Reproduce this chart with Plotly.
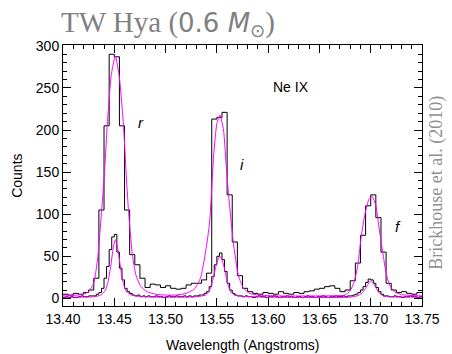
import numpy as np
import plotly.graph_objects as go

# ---------------- data ----------------
meg_start, meg_width = 13.400, 0.005
meg_counts = [5, 4, 6, 5, 7, 10, 24, 105, 205, 290,
              287, 205, 105, 52, 40, 24, 13, 17, 16, 13,
              15, 12, 11, 12, 16, 18, 18, 22, 30, 213,
              215, 221, 123, 67, 27, 12, 8, 6, 5, 7,
              6, 5, 8, 6, 5, 7, 6, 8, 9, 11,
              12, 14, 15, 12, 8, 10, 21, 42, 75, 110,
              123, 96, 55, 18, 10, 7, 8, 6, 5, 7]

heg_start, heg_width = 13.400, 0.0025
heg_counts = ([1, 2, 1, 2, 1, 1, 2, 3, 2, 2, 3, 3] +
              [3, 5, 7, 12, 24, 38, 58, 73, 76, 55, 36, 22, 12, 8, 6, 4, 3, 4] +
              [2, 3, 2, 3, 2, 2, 3, 2, 2, 1, 2, 3, 2, 2, 3, 2, 2, 3] +
              [2, 3, 2, 3, 3, 4, 4, 6, 8, 14, 26, 40, 50, 54, 46, 32, 18, 10, 6, 4, 3, 3] +
              [2, 3, 2, 2, 1, 2, 3, 2, 2, 1, 2, 2, 3, 2, 1, 2, 2, 3, 2, 2,
               1, 2, 2, 1, 2, 3, 2, 2, 1, 2, 2, 3, 2, 1, 2, 2, 3, 2, 2, 3] +
              [2, 3, 3, 4, 5, 7, 10, 14, 19, 23, 22, 18, 13, 8, 5, 3] +
              [3, 2, 2, 3, 2, 2, 1, 2, 2, 3, 2, 2, 1, 2])

meg_model_wl = [13.400, 13.410, 13.420, 13.425, 13.430, 13.434, 13.4377, 13.4405, 13.4431, 13.447,
                13.451, 13.455, 13.459, 13.4615, 13.4638, 13.4676, 13.471, 13.476, 13.482, 13.490,
                13.500, 13.510, 13.520, 13.528, 13.534, 13.539, 13.543, 13.5468, 13.550, 13.553,
                13.5565, 13.559, 13.5614, 13.566, 13.571, 13.576, 13.582, 13.590, 13.610, 13.650,
                13.675, 13.680, 13.684, 13.6875, 13.6904, 13.694, 13.698, 13.7015, 13.705, 13.708,
                13.7117, 13.715, 13.7184, 13.723, 13.730, 13.740, 13.750]
meg_model = [3, 3.5, 5, 8, 18, 50, 105, 150, 205, 265,
             288, 262, 205, 150, 105, 52, 28, 14, 8, 5,
             4, 4, 6, 11, 24, 55, 91, 169, 208, 218,
             200, 160, 123, 67, 27, 12, 6, 4, 3, 3,
             4, 9, 20, 40, 70, 98, 117, 121, 110, 85,
             55, 30, 16, 8, 4.5, 3.5, 3]

heg_model_wl = [13.400, 13.430, 13.437, 13.441, 13.444, 13.4465, 13.449, 13.451, 13.453, 13.4557,
                13.458, 13.461, 13.465, 13.470, 13.480, 13.500, 13.530, 13.539, 13.543, 13.546,
                13.549, 13.551, 13.553, 13.555, 13.5575, 13.560, 13.563, 13.567, 13.575, 13.600,
                13.680, 13.688, 13.692, 13.695, 13.698, 13.700, 13.702, 13.705, 13.708, 13.712,
                13.718, 13.750]
heg_model = [1.5, 2, 4, 9, 20, 38, 60, 70, 62, 40,
             22, 10, 5, 3, 2, 1.5, 2, 4, 10, 22,
             38, 46, 50, 46, 35, 20, 9, 4, 2.5, 1.5,
             1.5, 3.5, 7, 12, 18, 21, 19, 13, 7, 3,
             2, 1.5]

x_ticks = [13.40, 13.45, 13.50, 13.55, 13.60, 13.65, 13.70, 13.75]
y_ticks = [0, 50, 100, 150, 200, 250, 300]

line_labels = ["r", "i", "f"]
line_label_wl = [13.4765, 13.5745, 13.7265]
line_label_y = [209, 159, 85]


def step_xy(start, width, counts):
    n = len(counts)
    edges = np.round(start + width * np.arange(n + 1), 5)
    ys = list(counts) + [counts[-1]]
    return edges, ys


fig = go.Figure()
ex, ey = step_xy(meg_start, meg_width, meg_counts)
fig.add_trace(go.Scatter(x=ex, y=ey, mode="lines", line=dict(color="black", width=1, shape="hv"),
                         showlegend=False, hoverinfo="skip"))
ex, ey = step_xy(heg_start, heg_width, heg_counts)
fig.add_trace(go.Scatter(x=ex, y=ey, mode="lines", line=dict(color="black", width=1, shape="hv"),
                         showlegend=False, hoverinfo="skip"))
fig.add_trace(go.Scatter(x=meg_model_wl, y=meg_model, mode="lines",
                         line=dict(color="#ff00ff", width=1, shape="spline", smoothing=0.5),
                         showlegend=False, hoverinfo="skip"))
fig.add_trace(go.Scatter(x=heg_model_wl, y=heg_model, mode="lines",
                         line=dict(color="#ff00ff", width=1, shape="spline", smoothing=0.5),
                         showlegend=False, hoverinfo="skip"))

sans = "Liberation Sans, Arial, Helvetica, sans-serif"
serif = "Liberation Serif, Times New Roman, serif"

axis_common = dict(showline=True, linecolor="black", linewidth=1, mirror="allticks",
                   ticks="inside", ticklen=8, tickcolor="black", tickwidth=1,
                   showgrid=False, zeroline=False,
                   tickfont=dict(family=sans, size=14, color="black"))

fig.update_xaxes(range=[13.40, 13.75], tickvals=x_ticks, ticktext=[f"{v:.2f}" for v in x_ticks],
                 minor=dict(dtick=0.01, tick0=13.40, ticks="inside", ticklen=4, tickcolor="black"),
                 **axis_common)
fig.update_yaxes(range=[-9, 301], tickvals=y_ticks, ticktext=[str(v) for v in y_ticks],
                 minor=dict(dtick=10, tick0=0, ticks="inside", ticklen=4, tickcolor="black"),
                 **axis_common)

annotations = [
    dict(text="TW Hya (<span style='font-family:DejaVu Sans;font-size:26px'>0.6 <i>M</i><sub>⊙</sub></span>)",
         xref="paper", yref="paper", x=-0.010, y=1.084, xanchor="left", yanchor="middle",
         showarrow=False, font=dict(family=serif, size=29, color="#808080")),
    dict(text="Brickhouse et al. (2010)", xref="paper", yref="paper", x=1.038, y=0.471,
         textangle=-90, xanchor="center", yanchor="middle", showarrow=False,
         font=dict(family=serif, size=18, color="#909090")),
    dict(text="Ne IX", xref="x", yref="y", x=13.6226, y=251, showarrow=False,
         font=dict(family=sans, size=14, color="black")),
    dict(text="Wavelength (Angstroms)", xref="paper", yref="paper", x=0.5, y=-0.148,
         xanchor="center", yanchor="middle", showarrow=False,
         font=dict(family=sans, size=14, color="black")),
    dict(text="Counts", xref="paper", yref="paper", x=-0.130, y=0.5, textangle=-90,
         xanchor="center", yanchor="middle", showarrow=False,
         font=dict(family=sans, size=14, color="black")),
]
for lab, wl, yy in zip(line_labels, line_label_wl, line_label_y):
    annotations.append(dict(text=f"<i>{lab}</i>", xref="x", yref="y", x=wl, y=yy, showarrow=False,
                            font=dict(family=sans, size=15, color="black")))

fig.update_layout(width=452, height=354, margin=dict(l=63, r=21, t=45, b=48),
                  paper_bgcolor="white", plot_bgcolor="white", annotations=annotations)

fig.write_html("out.html", config={"displayModeBar": False},
               post_script="document.body.style.margin='0px';")
